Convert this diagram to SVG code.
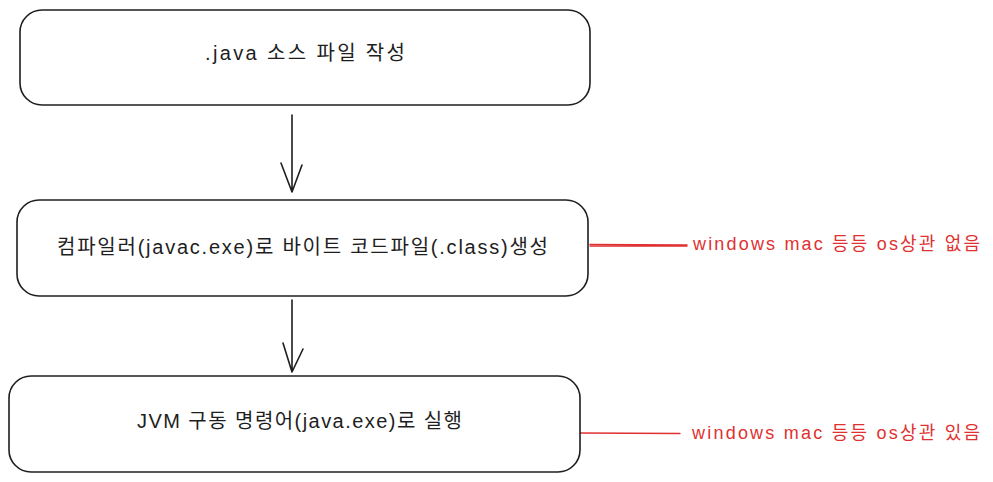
<svg xmlns="http://www.w3.org/2000/svg" width="993" height="482" viewBox="0 0 993 482">
<style>
.box{fill:#ffffff;stroke:#1e1e1e;stroke-width:1.6}
.lbl{font-family:"Liberation Sans","Noto Sans CJK KR",sans-serif;font-size:20px;fill:#1e1e1e}
.note{font-family:"Liberation Sans","Noto Sans CJK KR",sans-serif;font-size:18px;fill:#e03131}
.arrow{fill:none;stroke:#1e1e1e;stroke-width:1.6;stroke-linecap:round;stroke-linejoin:round}
.red{fill:none;stroke:#e03131;stroke-width:1.4;stroke-linecap:round}
</style>
<rect width="993" height="482" fill="#ffffff"/>
<g id="connectors">
<path class="arrow" d="M292 115 L292 192 M281 163 L292 192 L302 165"/>
<path class="arrow" d="M292 300 L292 372 M283 343 L292 372 L303 349"/>
<path class="red" d="M590 246 L687 246 M590 244.5 L687 245"/>
<path class="red" d="M580 433 L680 433.5"/>
</g>
<g id="node1">
<rect class="box" x="20" y="10" width="570" height="95" rx="22"/>
<text class="lbl" x="205" y="60" textLength="200" lengthAdjust="spacing">.java 소스 파일 작성</text>
</g>
<g id="node2">
<rect class="box" x="17" y="200" width="571" height="96" rx="22"/>
<text class="lbl" x="57" y="254" textLength="491" lengthAdjust="spacing">컴파일러(javac.exe)로 바이트 코드파일(.class)생성</text>
</g>
<g id="node3">
<rect class="box" x="9" y="376" width="571" height="96" rx="22"/>
<text class="lbl" x="137" y="428" textLength="325" lengthAdjust="spacing">JVM 구동 명령어(java.exe)로 실행</text>
</g>
<g id="note1">
<text class="note" x="693" y="250" textLength="287" lengthAdjust="spacing">windows mac 등등 os상관 없음</text>
</g>
<g id="note2">
<text class="note" x="692" y="439" textLength="288" lengthAdjust="spacing">windows mac 등등 os상관 있음</text>
</g>
</svg>
